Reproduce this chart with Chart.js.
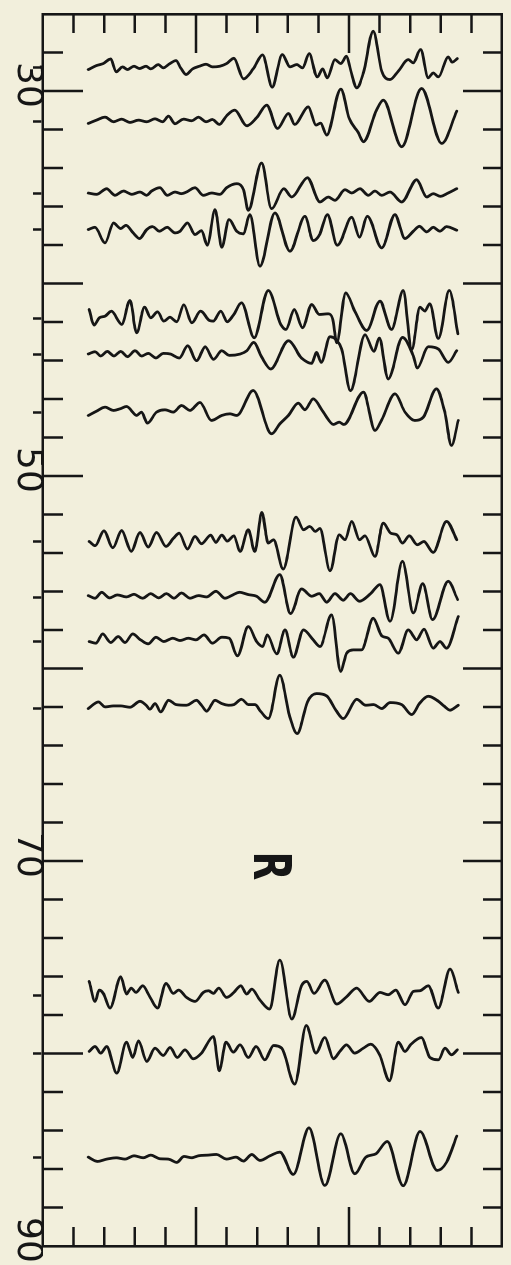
<!DOCTYPE html>
<html lang="en">
<head>
<meta charset="UTF-8">
<title>Record section</title>
<script src="https://cdn.jsdelivr.net/npm/chart.js"></script>
<style>
  html, body { margin: 0; padding: 0; background: #f2efdc; overflow: hidden; }
  /* the section is drawn landscape and turned a quarter turn clockwise */
  #wrap { position: absolute; left: 0; top: 0; width: 1265px; height: 511px;
          transform-origin: 0 0; transform: translate(511px, 0) rotate(90deg); }
</style>
</head>
<body>
<div id="wrap"><canvas id="section" width="1265" height="511"></canvas></div>
<script>
// epicentral distance of each record, degrees
const stationDist = [28.8, 31.6, 35.3, 37.2, 41.8, 43.7, 46.7, 53.4, 56.3, 58.6, 62.1, 77.0, 80.0, 85.4];

// frame ticks and labels
const distTicks = [28, 30, 32, 34, 36, 38, 40, 42, 44, 46, 48, 50, 52, 54, 56, 58, 60, 62, 64, 66, 68, 70, 72, 74, 76, 78, 80, 82, 84, 86, 88];
const distLongTicks = [30, 40, 50, 60, 70, 80];
const distLabels = [30, 50, 70, 90];
const timeTicks = [10, 20, 30, 40, 50, 60, 70, 80, 90, 100, 110, 120, 130, 140];
const timeLongTicks = [50, 100];

// records: [time s, amplitude]
const trace1 = [[14.8,-0.5],[17.5,0.7],[19.7,1.3],[22.1,2.7],[23.9,-1.2],[26.0,0.3],[27.6,-0.5],[29.7,0.5],[31.5,-0.2],[33.7,0.5],[35.2,-0.3],[37.7,1.0],[39.3,0],[41.3,1.2],[43.5,2.2],[45.0,0],[46.7,-2.0],[48.9,-0.3],[51.1,0.5],[53.3,1.1],[55.4,0.3],[57.8,0.5],[60.0,1.3],[62.4,2.9],[65.5,-3.3],[68.7,-0.3],[71.7,3.9],[74.9,-5.8],[78.2,4.0],[80.7,0.3],[82.9,1.0],[84.8,0],[87.0,4.3],[89.6,-2.7],[91.4,-0.3],[92.9,-3.0],[95.4,2.5],[97.3,1.3],[99.2,3.5],[100.5,-0.5],[102.5,-6.0],[104.7,-1.5],[107.9,11.0],[110.7,-1.0],[113.4,-3.5],[116.1,-1.0],[119.4,2.5],[121.0,1.5],[123.4,5.5],[125.9,-3.0],[127.5,-1.5],[129.2,-2.7],[132.4,3.3],[133.7,1.7],[135.4,2.8]];
const trace2 = [[14.8,-0.5],[17.5,0.5],[20.3,1.4],[23.0,0],[25.7,0.8],[28.4,-0.2],[31.2,0.5],[33.9,0],[36.6,0.9],[39.1,0],[41.0,1.7],[43.1,-0.6],[45.9,0.8],[48.6,0.3],[50.8,1.4],[53.3,0],[55.4,0.7],[57.6,-0.8],[60.0,1.8],[62.7,3.5],[66.6,-1.2],[69.8,1.2],[73.1,5.0],[76.6,-2.0],[80.2,2.5],[82.3,-0.8],[86.7,4.5],[89.2,-1.0],[90.7,-0.4],[92.7,-4.0],[97.3,9.8],[100.1,1.0],[103.0,-3.2],[104.7,-6.0],[109.0,3.5],[111.2,6.5],[117.2,-7.5],[123.7,10.0],[130.3,-6.5],[135.2,3.2]];
const trace3 = [[14.8,0],[17.5,-0.4],[20.8,1.3],[23.5,-0.7],[26.3,0.6],[29.0,-0.4],[31.7,0.3],[33.9,-0.7],[35.5,0.6],[38.2,1.6],[40.6,-0.7],[43.1,0.3],[45.3,-0.2],[46.9,0.3],[49.7,1.6],[52.4,-0.7],[55.1,0],[57.8,-0.4],[60.0,1.6],[63.3,2.8],[65.5,1.0],[67.1,-5.2],[71.4,9.0],[74.7,-4.7],[78.7,1.3],[81.3,-1.2],[86.4,4.6],[90.5,-2.7],[93.2,-1.2],[95.4,-2.2],[98.7,1.0],[100.9,0],[103.6,1.3],[106.3,-0.7],[108.5,0.6],[110.7,-0.7],[113.4,0.3],[117.2,-2.7],[122.1,4.0],[125.4,-1.2],[127.5,-0.2],[129.9,-1.0],[132.4,0],[135.2,1.3]];
const trace4 = [[14.8,0],[17.0,0.7],[20.3,-4.0],[23.0,2.0],[25.4,0.3],[27.1,1.3],[29.5,-1.0],[31.5,-2.7],[33.9,0],[35.8,0.9],[38.0,-0.5],[40.6,0.7],[43.1,-1.0],[44.8,-0.5],[47.2,2.0],[49.7,-1.5],[51.8,-0.3],[53.7,-4.7],[56.2,6.0],[58.4,-5.3],[60.8,3.0],[63.3,-0.5],[65.5,-1.3],[67.6,4.5],[70.9,-11.0],[75.8,5.0],[80.7,-6.5],[85.6,4.0],[88.3,-3.3],[90.5,-1.3],[92.9,4.5],[96.2,-4.7],[100.9,3.7],[103.4,-2.3],[106.0,4.0],[110.7,-5.5],[115.0,4.5],[118.3,-2.7],[121.0,-0.5],[123.0,1.0],[125.4,-0.7],[127.5,0.7],[129.7,-0.5],[131.9,0.9],[135.2,-0.2]];
const trace5 = [[15.1,2.6],[16.7,-2.1],[18.4,0.1],[20.3,0.6],[22.4,2.1],[25.7,-1.9],[28.4,5.3],[30.6,-4.4],[33.2,3.3],[35.2,0.1],[37.4,1.9],[39.5,-0.9],[41.5,0.3],[43.7,-1.1],[46.0,4.0],[48.6,-1.4],[51.5,2.1],[54.4,-0.7],[55.7,-0.9],[58.1,2.1],[60.2,-1.1],[62.2,0.9],[64.9,4.6],[69.0,-5.9],[73.6,8.3],[77.7,-1.9],[79.4,-3.4],[82.1,2.6],[84.8,-2.9],[87.8,4.1],[90.3,1.1],[93.2,1.3],[94.6,-0.1],[96.0,-7.4],[98.9,7.6],[101.9,2.1],[105.8,-3.7],[110.1,5.1],[113.9,-3.4],[117.7,8.3],[120.5,-9.4],[123.2,3.3],[124.8,2.1],[126.4,4.3],[129.2,-6.1],[132.8,8.3],[135.6,-4.7]];
const trace6 = [[14.8,0.2],[17.0,0.9],[18.9,-0.4],[21.0,1.0],[23.2,-0.4],[25.4,1.0],[27.6,-0.6],[30.1,1.2],[32.2,-0.4],[34.4,0.4],[36.9,-1.0],[39.3,0.4],[41.7,0.2],[44.5,-1.0],[47.3,2.7],[50.2,-1.8],[53.0,2.4],[55.7,-1.4],[58.4,1.2],[60.9,-0.2],[64.4,0.2],[66.6,1.2],[68.9,3.7],[71.4,-0.6],[74.4,-4.3],[80.2,4.2],[84.5,-1.0],[87.8,-2.6],[89.4,0.7],[90.9,-2.3],[93.8,5.4],[95.9,4.4],[97.6,1.7],[100.5,-10.8],[105.2,6.0],[108.2,1.0],[109.9,5.0],[112.8,-7.3],[117.5,5.2],[121.0,-0.3],[122.3,-4.0],[125.9,2.4],[129.2,1.7],[132.4,-2.3],[135.2,1.2]];
const trace7 = [[14.8,-0.9],[17.5,0.4],[20.3,1.6],[23.0,0.6],[25.2,1.1],[27.3,1.8],[30.6,-0.9],[32.2,0.1],[34.1,-3.2],[37.1,0.1],[39.9,0.8],[42.6,0.1],[45.3,2.1],[48.0,0.6],[51.3,3.0],[55.1,-2.4],[58.4,-0.9],[61.1,-0.4],[63.3,-0.9],[68.7,6.6],[74.7,-6.4],[77.4,-3.4],[80.2,-0.9],[83.4,2.8],[85.6,0.8],[88.3,4.1],[91.6,0.1],[94.9,-3.6],[96.8,-2.9],[98.3,-3.6],[104.7,6.1],[108.5,-5.4],[110.7,-2.2],[115.0,5.6],[118.3,0.1],[121.5,-2.4],[124.3,-1.4],[128.6,7.1],[131.3,0.1],[133.5,-9.9],[135.7,-2.4]];
const trace8 = [[15.1,0],[17.0,-1.3],[19.9,3.2],[22.8,-1.9],[25.7,3.3],[28.8,-3.0],[31.7,2.7],[34.4,-1.7],[37.1,2.7],[40.2,-1.5],[42.6,0.9],[44.5,2.5],[47.2,-2.3],[49.7,1.5],[51.8,-0.7],[54.8,1.9],[56.5,-0.3],[58.4,1.9],[60.2,0.1],[62.4,1.7],[64.4,-3.0],[67.1,3.5],[69.2,-3.0],[71.5,8.7],[73.6,-0.5],[75.3,0.5],[78.5,-8.3],[82.7,7.3],[85.1,3.5],[87.2,4.5],[89.0,3.0],[90.5,3.9],[93.8,-8.8],[96.8,2.0],[98.7,0.5],[100.9,6.0],[103.4,0.5],[105.2,1.7],[108.5,-4.5],[111.2,5.5],[113.6,2.5],[115.6,2.0],[117.5,-0.5],[119.7,1.7],[122.3,-1.0],[124.5,0],[127.5,-3.3],[131.9,6.0],[135.2,0.5]];
const trace9 = [[14.8,0.5],[17.0,-0.3],[19.2,1.5],[21.7,-0.2],[24.3,0.7],[27.3,0.1],[29.7,0.9],[32.6,-0.3],[35.2,1.1],[37.8,-0.2],[40.4,1.1],[42.8,-0.3],[45.3,1.3],[48.0,-0.3],[50.8,0.5],[53.5,0.1],[56.5,1.8],[59.5,-0.3],[61.6,0.5],[64.2,1.5],[67.1,0.8],[69.8,0.3],[72.5,-1.5],[77.4,6.8],[80.9,-4.9],[84.5,2.5],[87.8,0.3],[90.3,1.1],[92.7,-1.5],[95.4,1.1],[98.1,-0.9],[100.5,1.1],[103.4,-1.2],[107.1,1.1],[110.1,3.8],[113.4,-7.2],[117.5,10.8],[121.0,-4.7],[124.1,4.1],[127.3,-6.7],[132.4,4.8],[135.5,-0.7]];
const trace10 = [[15.1,0],[17.3,-0.5],[19.5,2.3],[22.1,-0.3],[24.6,1.5],[26.8,-0.3],[29.3,2.3],[31.9,0.5],[34.4,-0.7],[36.9,1.3],[39.5,0],[42.4,1.0],[44.8,0.3],[47.5,1.0],[50.0,0.5],[52.6,2.0],[55.4,-0.5],[58.4,1.3],[60.9,1.0],[63.5,-4.3],[67.1,4.5],[69.8,0],[71.8,-1.5],[73.3,2.0],[76.4,-3.7],[79.1,3.5],[81.8,-4.7],[85.1,3.5],[88.3,0.5],[90.5,-1.5],[94.3,8.0],[97.3,-9.0],[99.2,-3.5],[101.4,-2.5],[104.1,-2.5],[107.9,7.0],[110.7,1.7],[112.8,1.0],[116.1,-3.5],[119.4,3.5],[122.1,0.5],[124.5,3.7],[127.5,-2.0],[129.7,0],[131.9,-2.0],[135.7,7.5]];
const trace11 = [[14.8,0.1],[18.1,2.1],[20.3,0.6],[23.0,0.9],[25.4,0.9],[28.4,0.5],[31.7,2.3],[33.7,1.1],[35.0,-0.1],[36.6,1.6],[38.5,-0.9],[41.0,2.6],[43.5,1.3],[46.9,1.1],[50.2,2.6],[51.8,1.1],[53.5,-0.7],[56.2,2.6],[58.4,1.6],[60.6,1.1],[62.4,1.3],[64.9,2.9],[67.1,1.3],[69.3,1.3],[71.1,-0.7],[73.6,-2.9],[77.4,10.1],[80.5,-1.9],[83.1,-7.4],[86.4,2.1],[89.4,4.6],[92.7,3.9],[95.7,-0.4],[98.1,-2.9],[102.5,2.9],[105.5,1.1],[108.1,1.3],[110.7,0.1],[113.4,1.9],[117.2,1.3],[120.5,-1.7],[123.0,1.6],[125.9,3.8],[129.2,2.3],[131.0,0.9],[133.0,-0.4],[135.7,1.1]];
const trace12 = [[15.1,4.3],[17.0,-1.7],[18.4,1.7],[19.7,0.7],[21.9,-3.7],[25.4,5.7],[27.3,0.5],[28.8,2.3],[30.4,1.0],[32.6,3.0],[35.0,-0.5],[37.4,-3.7],[40.2,3.7],[42.6,0.7],[44.3,1.7],[46.9,-0.5],[49.7,-1.7],[52.4,1.0],[54.1,1.5],[55.7,0.7],[57.4,2.3],[60.0,-0.5],[62.4,1.0],[64.6,3.0],[66.6,0.5],[68.2,2.0],[70.9,-1.3],[74.0,-4.0],[77.4,10.7],[81.3,-7.0],[84.5,3.0],[86.2,4.3],[88.6,0.7],[92.1,4.7],[96.0,-2.5],[99.2,-0.3],[102.5,2.3],[106.6,-1.7],[110.1,1.0],[112.8,0.3],[115.3,1.7],[118.3,-2.7],[121.0,1.3],[123.2,1.5],[125.9,3.0],[129.2,-3.7],[133.0,8.0],[135.7,1.0]];
const trace13 = [[15.1,0.6],[17.0,2.1],[18.9,0.1],[20.8,2.1],[24.1,-5.9],[27.3,3.4],[29.3,-1.2],[31.2,3.8],[33.9,-2.4],[36.6,1.6],[39.3,-0.6],[41.5,1.8],[43.9,-1.2],[46.4,1.1],[49.1,-1.6],[51.8,0.1],[55.7,5.1],[57.6,-5.2],[59.8,3.4],[62.2,0.4],[64.4,2.6],[67.1,-1.2],[69.6,2.1],[72.5,-1.9],[75.3,2.4],[78.0,1.6],[82.3,-9.2],[86.0,8.4],[89.2,0.1],[92.1,4.8],[94.9,-1.6],[97.0,0.6],[99.2,2.6],[101.9,0.1],[104.7,1.6],[107.1,2.8],[110.1,-0.6],[113.2,-8.2],[116.1,3.4],[118.3,0.6],[120.1,2.6],[123.7,4.8],[126.4,-1.2],[129.2,-1.9],[131.4,1.6],[133.5,-0.4],[135.4,1.1]];
const trace14 = [[14.8,0.1],[17.8,-1.2],[20.8,-0.5],[23.9,-0.1],[26.8,-0.5],[29.7,0.5],[32.8,-0.1],[35.2,0.7],[38.2,-0.4],[41.0,-0.5],[43.7,-1.5],[46.1,0.3],[48.6,-0.1],[50.8,0.5],[54.0,0.7],[56.7,0.9],[60.0,-0.5],[63.1,0.1],[65.5,-1.1],[68.2,0.9],[70.9,-0.9],[74.2,0.5],[77.4,1.6],[81.8,-5.1],[86.9,8.9],[92.1,-8.4],[97.3,7.1],[101.9,-4.9],[105.5,0.1],[108.8,1.1],[112.5,4.8],[117.7,-8.5],[123.2,7.8],[128.8,-3.9],[131.9,-1.4],[135.2,6.4]];

const traces = [trace1, trace2, trace3, trace4, trace5, trace6, trace7, trace8, trace9, trace10, trace11, trace12, trace13, trace14];
const gain = 0.1732; // degrees of distance per amplitude unit

const ink = '#161616';
const paper = '#f2efdc';

const paperFill = {
  id: 'paperFill',
  beforeDraw(chart) {
    const ctx = chart.ctx;
    ctx.save();
    ctx.fillStyle = paper;
    ctx.fillRect(0, 0, chart.width, chart.height);
    ctx.restore();
  }
};

// inward ticks on all four sides, and the phase letter
const frameTicks = {
  id: 'frameTicks',
  afterDatasetsDraw(chart) {
    const {ctx, chartArea: a, scales: {x, y}} = chart;
    ctx.save();
    ctx.strokeStyle = ink;
    ctx.lineWidth = 2.5;
    ctx.beginPath();
    distTicks.forEach(v => {
      const px = x.getPixelForValue(v);
      const long = distLongTicks.includes(v);
      ctx.moveTo(px, a.bottom);
      ctx.lineTo(px, a.bottom - (long ? 40 : 20));
      ctx.moveTo(px, a.top);
      ctx.lineTo(px, a.top + (long ? 39 : 19));
    });
    timeTicks.forEach(v => {
      const py = y.getPixelForValue(v);
      const long = timeLongTicks.includes(v);
      ctx.moveTo(a.left, py);
      ctx.lineTo(a.left + (long ? 39 : 19), py);
      ctx.moveTo(a.right, py);
      ctx.lineTo(a.right - (long ? 39 : 19), py);
    });
    ctx.stroke();

    ctx.translate(x.getPixelForValue(70.25), y.getPixelForValue(73.4));
    ctx.scale(0.72, 1);
    ctx.fillStyle = ink;
    ctx.font = 'bold 52px "DejaVu Sans"';
    ctx.textAlign = 'center';
    ctx.textBaseline = 'middle';
    ctx.fillText('R', 0, 0);
    ctx.restore();
  }
};

const bottomTicks = [...stationDist, ...distLabels].sort((p, q) => p - q);

new Chart(document.getElementById('section'), {
  type: 'line',
  data: {
    datasets: traces.map((tr, i) => ({
      data: tr.map(([t, amp]) => ({ x: stationDist[i] - amp * gain, y: t })),
      borderColor: ink,
      borderWidth: 2.8,
      borderCapStyle: 'round',
      borderJoinStyle: 'round',
      pointRadius: 0,
      fill: false,
      cubicInterpolationMode: 'monotone'
    }))
  },
  options: {
    indexAxis: 'y',
    responsive: false,
    animation: false,
    devicePixelRatio: 1,
    layout: { padding: 0 },
    plugins: { legend: { display: false }, tooltip: { enabled: false } },
    scales: {
      x: {
        type: 'linear', position: 'bottom', min: 26, max: 90,
        afterBuildTicks: s => { s.ticks = bottomTicks.map(v => ({ value: v })); },
        afterFit: s => { s.height = 43; },
        ticks: {
          autoSkip: false, maxRotation: 0, color: ink,
          padding: -12, labelOffset: -6,
          font: { family: 'DejaVu Sans', size: 36, lineHeight: 1 },
          callback: v => distLabels.includes(v) ? String(v) : ''
        },
        grid: {
          drawOnChartArea: false, tickLength: 10, tickWidth: 2.5,
          tickColor: c => stationDist.includes(c.tick.value) ? ink : 'rgba(0,0,0,0)'
        },
        border: { display: true, width: 2.6, color: ink }
      },
      x2: {
        type: 'linear', position: 'top', min: 26, max: 90,
        afterFit: s => { s.height = 9; },
        ticks: { display: false },
        grid: { display: false },
        border: { display: true, width: 2.6, color: ink }
      },
      y: {
        type: 'linear', position: 'left', min: 0, max: 150,
        afterFit: s => { s.width = 14; },
        ticks: { display: false },
        grid: { display: false },
        border: { display: true, width: 2.6, color: ink }
      },
      y2: {
        type: 'linear', position: 'right', min: 0, max: 150,
        afterFit: s => { s.width = 19; },
        ticks: { display: false },
        grid: { display: false },
        border: { display: true, width: 2.6, color: ink }
      }
    }
  },
  plugins: [paperFill, frameTicks]
});
</script>
</body>
</html>
